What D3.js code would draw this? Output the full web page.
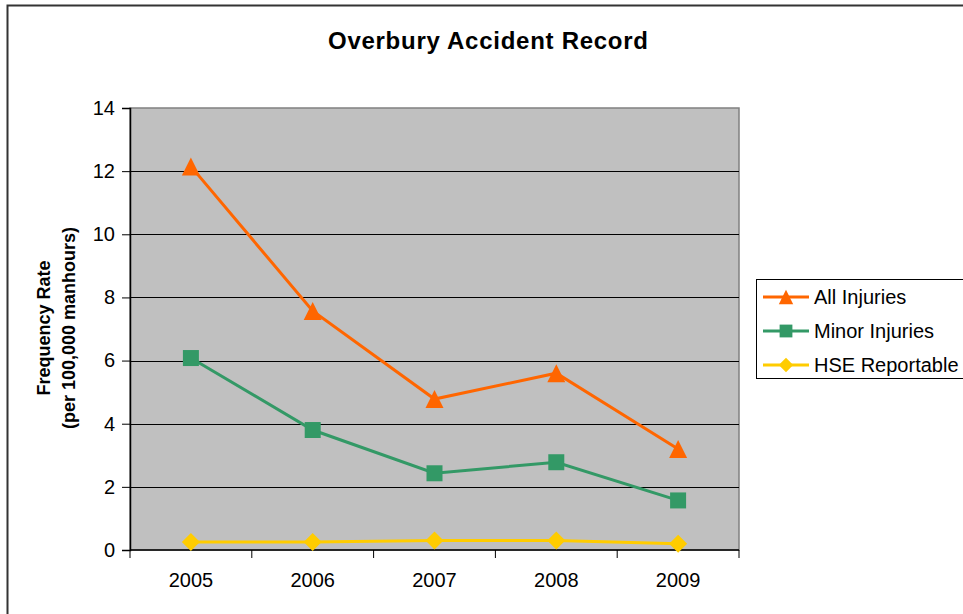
<!DOCTYPE html>
<html>
<head>
<meta charset="utf-8">
<script src="https://cdn.jsdelivr.net/npm/d3@7"></script>
<style>
  body { margin: 0; background: #fff; }
  svg text { font-family: "Liberation Sans", Arial, sans-serif; }
</style>
</head>
<body>
<div id="vis"></div>
<script>
const years = ["2005", "2006", "2007", "2008", "2009"];
const allInjuries = [12.15, 7.57, 4.78, 5.6, 3.2];
const minorInjuries = [6.08, 3.8, 2.43, 2.78, 1.57];
const hseReportable = [0.25, 0.25, 0.3, 0.3, 0.2];
const yTicks = [0, 2, 4, 6, 8, 10, 12, 14];

// excel-like marker shapes, size = bounding box width
const triangle = {
  draw(ctx, s) {
    const h = s / 2;
    ctx.moveTo(0, -h);
    ctx.lineTo(h, h);
    ctx.lineTo(-h, h);
    ctx.closePath();
  }
};
const square = {
  draw(ctx, s) {
    const h = s / 2;
    ctx.rect(-h, -h, s, s);
  }
};
const diamond = {
  draw(ctx, s) {
    const h = s / 2;
    ctx.moveTo(0, -h);
    ctx.lineTo(h, 0);
    ctx.lineTo(0, h);
    ctx.lineTo(-h, 0);
    ctx.closePath();
  }
};

const series = [
  { name: "All Injuries", values: allInjuries, color: "#FF6600", shape: triangle, size: 18 },
  { name: "Minor Injuries", values: minorInjuries, color: "#339966", shape: square, size: 16 },
  { name: "HSE Reportable", values: hseReportable, color: "#FFCC00", shape: diamond, size: 18 }
];

const width = 963, height = 614;
const plot = { left: 130, top: 108, right: 739, bottom: 550 };

const svg = d3.select("#vis")
    .append("svg")
    .attr("width", width)
    .attr("height", height);

// outer chart border (runs past the window edges)
svg.append("rect")
    .attr("x", 7.5).attr("y", 5.5)
    .attr("width", 1000).attr("height", 700)
    .attr("fill", "#fff")
    .attr("stroke", "#333").attr("stroke-width", 2);

const x = d3.scaleBand()
    .domain(years)
    .range([plot.left, plot.right]);

const y = d3.scaleLinear()
    .domain([0, 14])
    .range([plot.bottom, plot.top]);

// plot background
svg.append("rect")
    .attr("x", plot.left).attr("y", plot.top)
    .attr("width", plot.right - plot.left)
    .attr("height", plot.bottom - plot.top)
    .attr("fill", "#C0C0C0")
    .attr("stroke", "#808080").attr("stroke-width", 1.5);

// gridlines
svg.append("g")
    .selectAll("line")
    .data(yTicks.filter(d => d > 0 && d < 14))
    .enter().append("line")
    .attr("x1", plot.left).attr("x2", plot.right)
    .attr("y1", d => Math.round(y(d)) + 0.5)
    .attr("y2", d => Math.round(y(d)) + 0.5)
    .attr("stroke", "#000").attr("stroke-width", 1);

// y axis
const yAxis = svg.append("g")
    .attr("transform", "translate(" + plot.left + ",0)")
    .call(d3.axisLeft(y).tickValues(yTicks).tickSize(8).tickPadding(7));
yAxis.select(".domain").attr("stroke", "#000").attr("stroke-width", 1.5);
yAxis.selectAll("text").attr("font-size", 20).attr("fill", "#000");

// x axis: ticks sit between categories
const xAxis = svg.append("g")
    .attr("transform", "translate(0," + plot.bottom + ")");
xAxis.append("line")
    .attr("x1", plot.left).attr("x2", plot.right)
    .attr("stroke", "#000").attr("stroke-width", 1.5);
const edges = years.map(d => x(d)).concat([x(years[years.length - 1]) + x.bandwidth()]);
xAxis.selectAll(".tick")
    .data(edges)
    .enter().append("line")
    .attr("x1", d => d).attr("x2", d => d)
    .attr("y1", 0).attr("y2", 8)
    .attr("stroke", "#000").attr("stroke-width", 1);
xAxis.selectAll("text")
    .data(years)
    .enter().append("text")
    .attr("x", d => x(d) + x.bandwidth() / 2)
    .attr("y", 37)
    .attr("text-anchor", "middle")
    .attr("font-size", 20)
    .text(d => d);

// lines and markers
const line = d3.line()
    .x((d, i) => x(years[i]) + x.bandwidth() / 2)
    .y(d => y(d));

series.forEach(s => {
  svg.append("path")
      .datum(s.values)
      .attr("d", line)
      .attr("fill", "none")
      .attr("stroke", s.color)
      .attr("stroke-width", 3);
  svg.append("g")
      .selectAll("path")
      .data(s.values)
      .enter().append("path")
      .attr("d", d3.symbol().type(s.shape).size(s.size))
      .attr("transform", (d, i) => "translate(" + (x(years[i]) + x.bandwidth() / 2) + "," + y(d) + ")")
      .attr("fill", s.color);
});

// title
svg.append("text")
    .attr("x", 488).attr("y", 49)
    .attr("text-anchor", "middle")
    .attr("font-size", 24)
    .attr("font-weight", "bold")
    .attr("textLength", 320)
    .text("Overbury Accident Record");

// y axis title
const yTitle = svg.append("text")
    .attr("transform", "translate(50,328) rotate(-90)")
    .attr("text-anchor", "middle")
    .attr("font-size", 18)
    .attr("font-weight", "bold");
yTitle.append("tspan").attr("x", 0).attr("dy", 0).text("Frequency Rate");
yTitle.append("tspan").attr("x", 0).attr("dy", 25).text("(per 100,000 manhours)");

// legend
const legend = svg.append("g").attr("transform", "translate(756,279)");
legend.append("rect")
    .attr("x", 0.5).attr("y", 0.5)
    .attr("width", 240).attr("height", 99)
    .attr("fill", "#fff")
    .attr("stroke", "#000").attr("stroke-width", 1);
series.forEach((s, i) => {
  const g = legend.append("g").attr("transform", "translate(0," + (18 + i * 34) + ")");
  g.append("line")
      .attr("x1", 7).attr("x2", 53)
      .attr("stroke", s.color).attr("stroke-width", 3);
  g.append("path")
      .attr("d", d3.symbol().type(s.shape).size(s.size * 0.8))
      .attr("transform", "translate(30,0)")
      .attr("fill", s.color);
  g.append("text")
      .attr("x", 58).attr("y", 7)
      .attr("font-size", 20)
      .text(s.name);
});
</script>
</body>
</html>
